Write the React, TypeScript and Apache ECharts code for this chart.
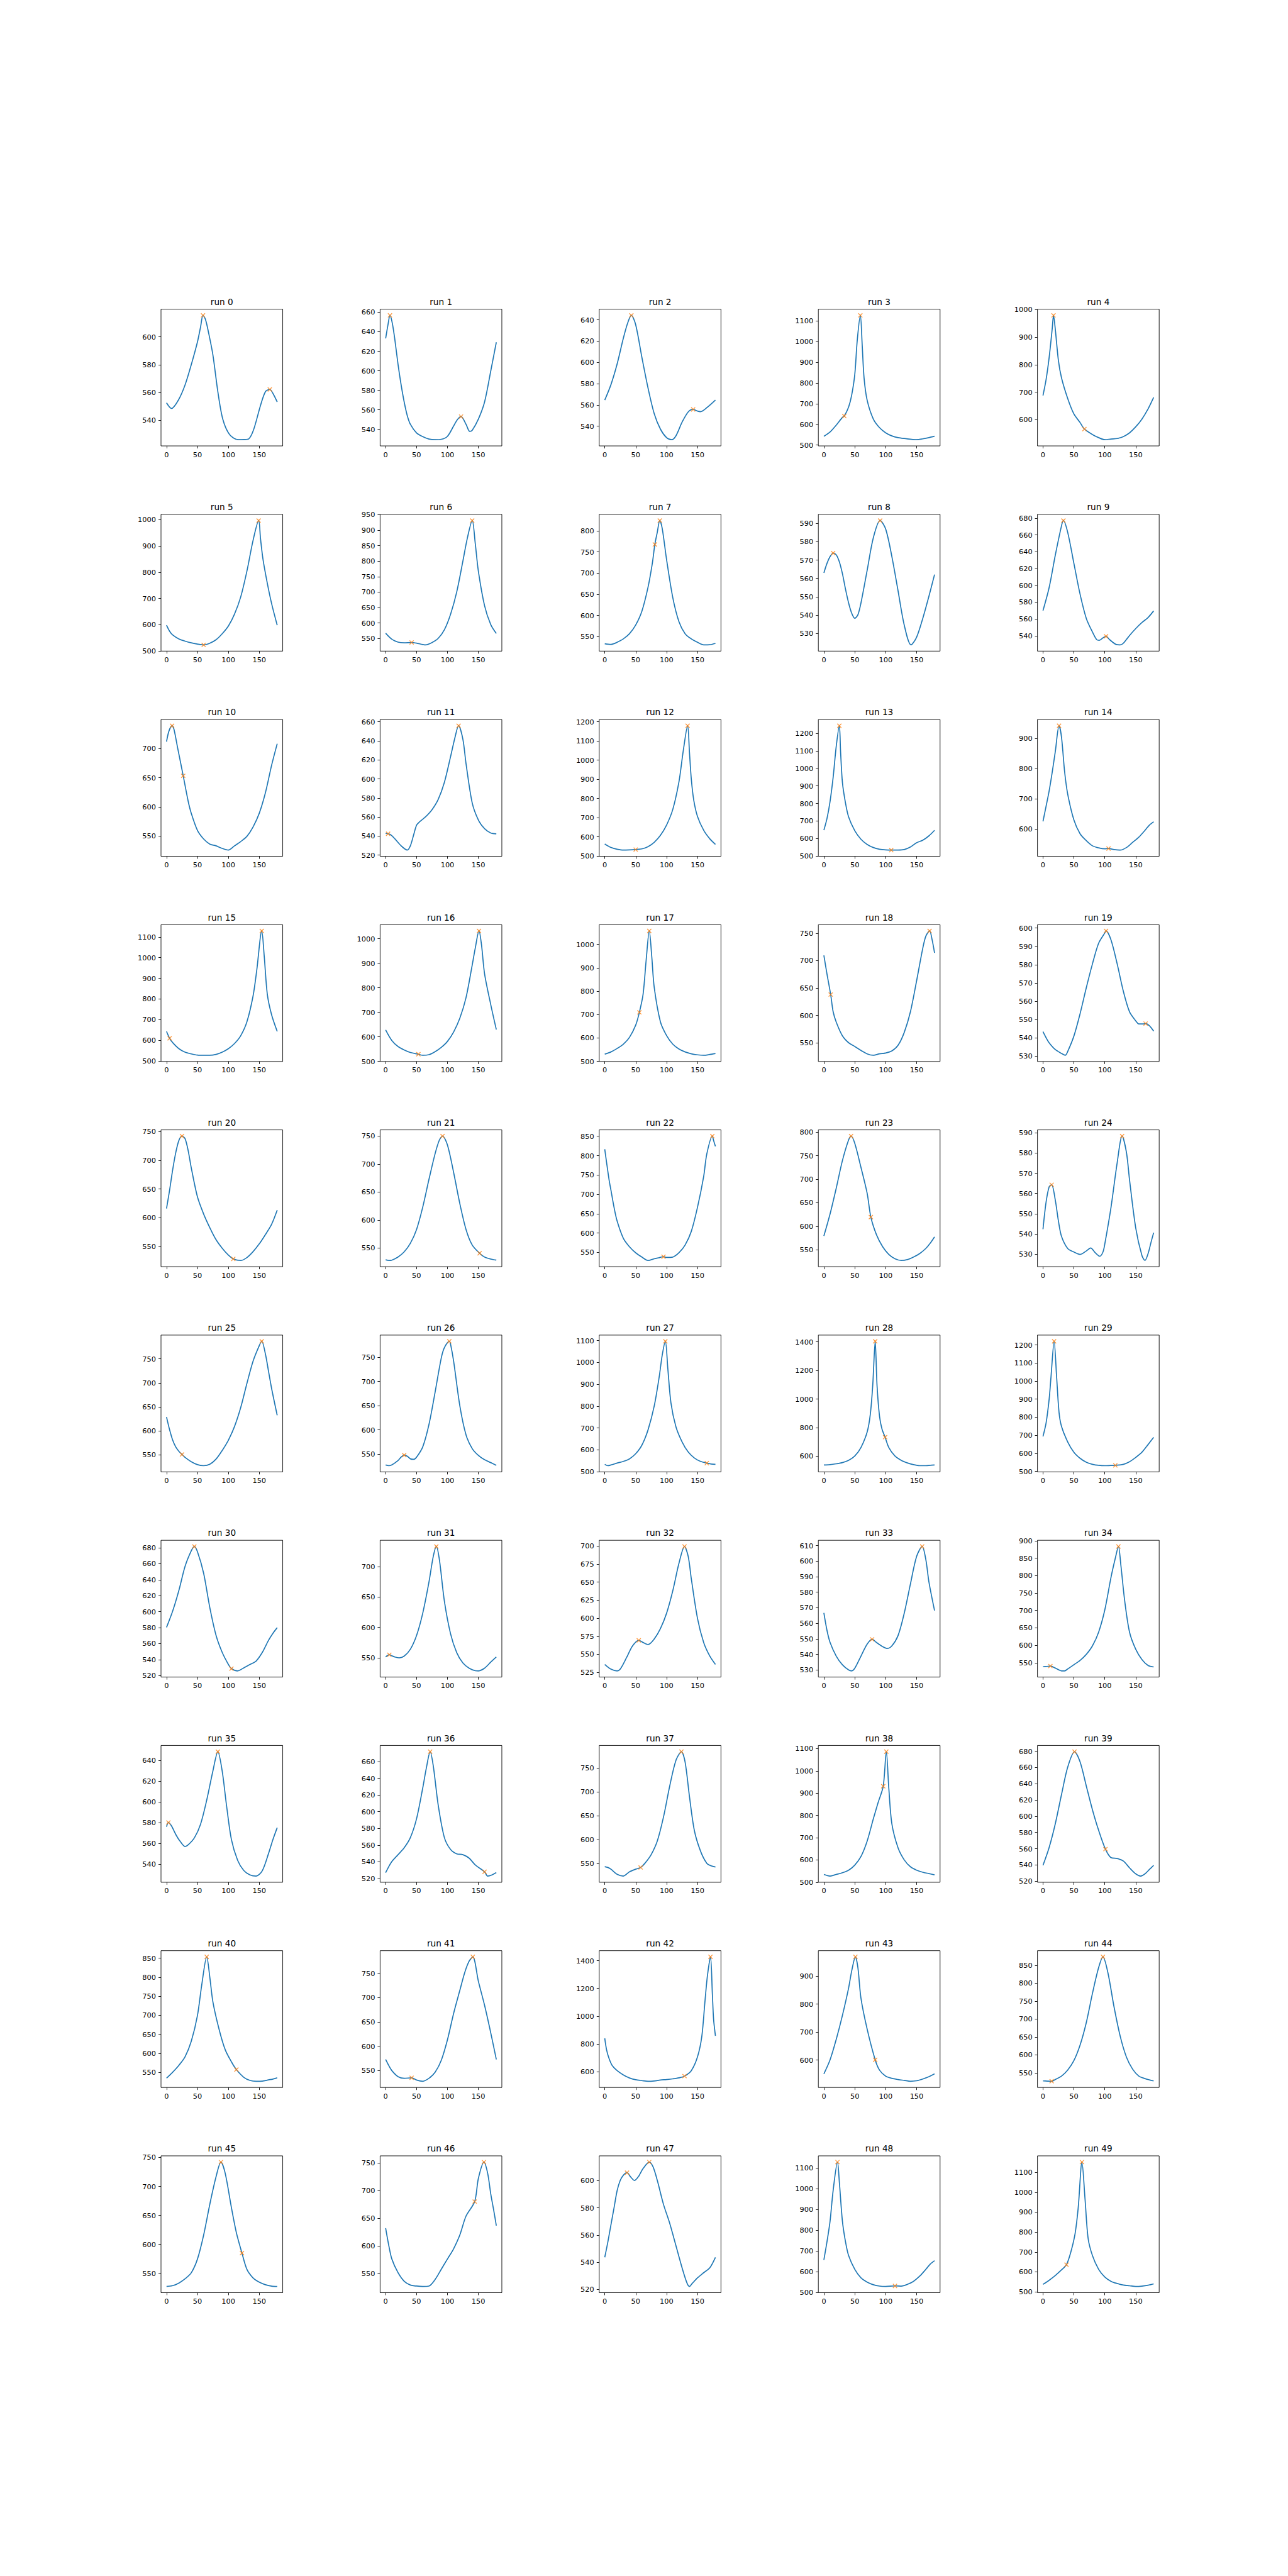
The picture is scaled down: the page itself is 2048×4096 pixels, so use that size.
import React, { useEffect, useRef } from "react";
import * as echarts from "echarts";

type P = [number, number];

// ---- curves (x = 0..179) ----
const r0: P[] = [[0,552.5],[8,548.4],[19,554.3],[30,565.4],[41,581.5],[50,596.3],[55,607],[59,615.5],[63,612.5],[68,603],[75,587],[83,560.5],[91,540.7],[102,529.6],[116,525.9],[125,526],[133,526.5],[141,533.3],[152,550.6],[160,560.5],[167,562.1],[173,558.5],[179,553.1]];
const r1: P[] = [[0,633.1],[4,648],[7,656.8],[11,648],[15,631.4],[20,606.7],[25,585.7],[30,568],[35,554],[40,545.2],[50,536.4],[60,532.6],[70,530.1],[80,529.4],[90,529.8],[100,532.9],[110,543.5],[116,550],[122,553.1],[130,545.2],[136,537.9],[140,539],[150,550.5],[160,568],[170,599.7],[179,629.2]];
const r2: P[] = [[0,564.6],[10,579.1],[20,598.5],[30,622.6],[37,637],[43,644.3],[50,635.5],[60,604.9],[70,575.9],[80,551.8],[90,537.3],[100,529.2],[108,527.3],[115,530.8],[125,543.7],[135,553.4],[143,555.8],[150,554.2],[155,553.7],[165,557.4],[179,564.6]];
const r3: P[] = [[0,542.3],[10,563],[20,596.3],[30,633.6],[33,640],[40,683.4],[45,741.5],[50,841],[54,1007],[59,1127],[62,982],[65,824.5],[70,716.6],[80,625.3],[90,583.8],[100,559],[110,544],[120,535.7],[130,531.6],[150,525.7],[160,529.9],[170,535.7],[179,542.3]];
const r4: P[] = [[0,688],[5,745.5],[10,826.6],[15,932.6],[17,979.4],[20,926.4],[25,814],[30,751.7],[40,676.9],[50,620.7],[60,589.5],[67,565.8],[80,545.9],[90,534.6],[100,527.1],[110,529.6],[120,531.5],[130,538.4],[140,552.1],[150,574],[160,602],[170,639.4],[179,681]];
const r5: P[] = [[0,598],[5,575],[10,560.8],[20,545.8],[30,537.3],[40,530.7],[50,526.1],[60,523],[70,529.4],[80,542.5],[90,565.4],[100,594.8],[110,640.5],[120,705.9],[130,804],[140,921.6],[149,997],[152,928],[156,849.7],[163,758],[170,680],[179,598]];
const r6: P[] = [[0,567.2],[10,547.8],[20,538.3],[30,536.1],[42,537.2],[50,535],[60,530.6],[65,529.4],[75,536.7],[85,550.6],[95,578.3],[105,628.3],[115,700.6],[125,800.6],[132,872.8],[140,931],[145,856],[150,767],[160,656],[170,595],[179,566.1]];
const r7: P[] = [[0,533.3],[10,531.7],[20,536.6],[30,544.7],[40,556.9],[50,577.2],[60,609.8],[70,666.7],[77,723.6],[81,767.5],[85,796.7],[89,824],[93,804.9],[100,731.7],[110,642.3],[120,585.4],[130,556.9],[140,544.7],[150,536.6],[160,530.5],[170,530.9],[179,534.1]];
const r8: P[] = [[0,563],[5,568.2],[10,571.9],[15,573.8],[20,572.9],[25,569.1],[30,562.6],[35,554.1],[40,546.6],[45,541],[50,538.2],[55,540.1],[60,546.6],[70,564.4],[80,582.2],[91,591.6],[100,586.9],[110,571.9],[120,553.2],[130,534.5],[141,523.7],[150,527.9],[160,538.2],[170,550.4],[179,562.1]];
const r9: P[] = [[0,570],[10,597.6],[20,636.3],[30,671],[33,677.1],[40,662.9],[50,626.1],[60,589.4],[70,560.8],[80,544.5],[87,535.3],[91,534.7],[97,537.5],[102,539.4],[108,535.3],[118,529.8],[125,529.2],[130,531.2],[140,540.4],[150,548.6],[160,555.7],[170,561.8],[179,569.6]];
const r10: P[] = [[0,711.8],[4,730.3],[9,739.1],[12,733.2],[18,700.9],[27,653.2],[35,609.7],[40,589],[50,559.7],[60,545],[70,536.2],[80,533.2],[90,528.8],[100,525.9],[110,533.2],[120,540.6],[130,549.4],[140,565.6],[150,589],[160,624.4],[170,671.5],[179,708.2]];
const r11: P[] = [[0,542.7],[4,542.3],[8,541.4],[15,537],[25,529.7],[35,525.2],[40,529.7],[45,540.5],[50,551.4],[55,555],[65,560.4],[75,567.6],[85,578.4],[95,596.4],[105,623.4],[112,643.2],[118,655.9],[125,641.4],[130,616.2],[140,574.8],[150,556.8],[160,547.7],[170,543.2],[179,542.3]];
const r12: P[] = [[0,562.2],[10,544.1],[20,535.1],[30,530.6],[40,531.5],[50,533.3],[60,536.9],[70,548.6],[80,571.2],[90,607.2],[100,661.3],[110,742.3],[120,886.5],[127,1049],[134,1179],[137,1040],[140,900],[144,790],[150,706],[160,634],[170,589],[179,560.4]];
const r13: P[] = [[0,647.4],[5,713.3],[10,811.6],[15,949.3],[20,1126.3],[25,1244],[27,1097],[30,919.8],[35,801.8],[40,723],[50,644.4],[60,595.3],[70,565.8],[80,548.1],[90,538.3],[100,534.3],[109,533.4],[120,533.4],[130,536.3],[140,551],[150,575.6],[160,590],[170,615],[179,646.4]];
const r14: P[] = [[0,625],[5,675.2],[10,726.6],[15,789.3],[20,857.8],[26,942.2],[30,903.4],[35,789.3],[40,715.2],[50,629.6],[60,584],[70,561.2],[80,544],[90,537.2],[100,534],[106,535],[115,531.5],[125,529.8],[135,538.3],[145,555.4],[155,572.6],[165,595.4],[172,612.5],[179,623.9]];
const r15: P[] = [[0,642.8],[5,609.2],[10,588.3],[20,559],[30,542.1],[40,533.7],[50,527.9],[60,527],[70,527],[80,531.2],[90,542.1],[100,559],[110,584],[120,621.8],[130,688.9],[140,814.8],[146,940.6],[154,1129.4],[158,1007.7],[163,823],[170,722.5],[179,642.8]];
const r16: P[] = [[0,628.5],[10,585.2],[20,560.8],[30,546.8],[40,536.3],[53,529.3],[60,525],[70,527.5],[80,539.8],[90,557.3],[100,581.7],[110,620.1],[120,676],[130,759.8],[140,892.5],[145,962.3],[151,1032],[155,976.3],[160,857.5],[170,731.8],[179,629.9]];
const r17: P[] = [[0,530.9],[10,540.4],[20,555.1],[30,573.5],[40,602.9],[50,654.4],[56,709.6],[62,786.8],[67,933.8],[72,1057.4],[76,948.5],[80,816.2],[90,669.1],[100,610.3],[110,573.5],[120,552.9],[130,540.4],[140,532.4],[150,527.9],[160,526],[170,529.4],[179,533.8]];
const r18: P[] = [[0,709.6],[5,675.7],[11,638.1],[15,606.7],[20,587.9],[30,562.9],[40,550.3],[50,543.4],[60,536.2],[70,530],[80,527.4],[90,530],[100,531.5],[110,535.3],[120,545.6],[130,569.1],[140,606.7],[150,663.2],[160,722.7],[165,744.7],[171,754.1],[175,738.4],[179,714]];
const r19: P[] = [[0,543.4],[5,540.1],[10,537.3],[20,533.6],[30,531.5],[36,530.5],[40,532.6],[50,541],[60,553.2],[70,567.3],[80,580.4],[90,591.7],[100,597.3],[102,598.4],[110,593.5],[120,580.4],[130,565.4],[140,554.2],[150,549.3],[155,547.6],[162,547.6],[166,547.8],[172,546.7],[179,543.7]];
const r20: P[] = [[0,616.1],[5,648.2],[10,683.9],[15,713.7],[20,734.5],[25,742],[30,737.5],[35,716.7],[40,686.9],[50,636.3],[60,606.5],[70,582.7],[80,561.9],[90,547],[100,535.1],[108,528.3],[120,525.6],[130,530.7],[140,541.1],[150,554.5],[160,570.8],[170,588.7],[179,613.1]];
const r21: P[] = [[0,528.7],[5,527.5],[10,528.1],[20,533.7],[30,542.9],[40,558.3],[50,583],[60,623],[70,672.3],[80,718.6],[87,743.2],[92,750],[100,734],[110,684.7],[120,629.2],[130,583],[140,555.2],[152,540.4],[160,533.7],[170,530],[179,528.1]];
const r22: P[] = [[0,816.3],[3,781.7],[7,737.4],[10,710.8],[15,666.5],[20,631],[30,586.7],[40,564.5],[50,549],[60,537.9],[70,529.1],[80,533.5],[87,536],[95,538.8],[100,537],[110,537.9],[120,549],[130,569],[140,604.4],[150,666.5],[160,746.3],[165,803.9],[174,850.4],[176,839.4],[179,823.8]];
const r23: P[] = [[0,579.3],[10,626.1],[20,681],[30,739.6],[40,783.5],[44,791.6],[50,776.2],[60,725],[70,670.1],[76,619.5],[85,582.2],[95,556.6],[105,540.1],[115,531],[125,527.3],[135,529.1],[145,534.6],[155,542],[165,553],[172,564],[179,577.5]];
const r24: P[] = [[0,542.3],[5,555.7],[10,563.3],[14,564.3],[20,556.5],[25,546.3],[30,538.7],[40,532.7],[50,531],[60,529.8],[70,531.5],[77,533],[85,530.5],[92,528.9],[97,531],[100,535],[110,553.1],[120,575.2],[128,588.4],[135,580.3],[140,566.7],[150,542.9],[160,529.3],[165,526.8],[170,530.2],[175,536.1],[179,540.6]];
const r25: P[] = [[0,628.7],[5,601.8],[10,580.2],[15,565.9],[20,557],[25,550.5],[30,544.3],[40,535.4],[50,529.3],[60,527.1],[70,530],[80,540.7],[90,558.7],[100,580.2],[110,608.9],[120,648.4],[130,698.7],[140,745.3],[150,777.6],[154,786.6],[160,759.7],[165,723.8],[170,687.9],[179,632.3]];
const r26: P[] = [[0,527.8],[5,526.4],[10,528.1],[20,537],[25,544],[30,548.2],[35,545.8],[40,540.5],[45,539.4],[50,544],[60,565.2],[70,611],[80,678],[90,748.6],[95,769.8],[103,782.8],[105,776.8],[110,741.5],[120,649.8],[130,589.9],[140,561.6],[150,547.5],[160,538.7],[170,532.7],[179,527.1]];
const r27: P[] = [[0,533.7],[5,527.5],[10,530.6],[20,539.2],[30,547],[40,558.7],[50,582.1],[60,621.1],[70,691.3],[80,800.5],[88,933],[93,1034.5],[98,1096.9],[102,972],[107,816],[115,706.9],[125,636.7],[135,589.9],[145,562.6],[155,547],[165,539.2],[172,535.3],[179,533.7]];
const r28: P[] = [[0,538.7],[10,541.1],[20,547.2],[30,555.6],[40,571.1],[50,601.2],[60,661.3],[70,769.4],[75,889.5],[79,1093.7],[83,1403.6],[86,1093.7],[90,880],[94,790],[99,733.3],[105,661.3],[115,601.2],[125,571.1],[135,553.2],[145,541.1],[155,533.9],[165,533.9],[172,536.3],[179,538.7]];
const r29: P[] = [[0,693.8],[5,768],[10,901.2],[13,1025],[18,1220],[22,1025],[26,825.1],[30,749],[40,663.4],[50,606.3],[60,573],[70,551.1],[80,539.7],[90,534],[100,532.1],[110,533.5],[117,534],[130,539.7],[140,553.9],[150,577.7],[160,606.3],[170,649.1],[179,689]];
const r30: P[] = [[0,580.3],[10,600.8],[20,626.6],[30,656.7],[40,676.1],[45,681.5],[50,675],[60,648.1],[70,605.1],[80,570.6],[90,549.1],[100,534],[105,528.7],[115,525.9],[125,529.7],[135,534],[145,538.3],[155,549.1],[165,564.2],[172,572.8],[179,579.9]];
const r31: P[] = [[0,551.1],[6,554.8],[10,553.1],[15,551.1],[22,549.7],[30,552.6],[40,563.9],[50,586.6],[60,623.4],[70,674.5],[77,717],[82,733.5],[87,711.3],[95,643.3],[105,589.4],[115,558.2],[125,541.2],[135,532.7],[145,528.5],[150,528.2],[160,532.7],[170,542.6],[179,551.1]];
const r32: P[] = [[0,536],[10,529.5],[20,527.1],[25,529.5],[35,545],[45,561.7],[55,569.3],[62,566.4],[70,563.6],[80,571.2],[90,585.5],[100,606.9],[110,637.9],[120,676],[129,699.3],[135,685.5],[140,654.5],[150,599.8],[160,566.4],[170,547.4],[179,536]];
const r33: P[] = [[0,566.7],[5,555.5],[10,547.7],[20,538.9],[30,533.3],[40,530],[45,529.4],[50,531.1],[60,538.9],[70,546.6],[78,549.7],[85,547.7],[95,545],[102,543.8],[110,545.5],[120,552.1],[130,566.5],[140,585.3],[150,603],[159,609.4],[165,600.8],[170,586.4],[179,568.2]];
const r34: P[] = [[0,538.6],[6,539.5],[12,540.6],[20,534.7],[30,526.8],[35,526.8],[40,532.2],[50,544.5],[60,556.8],[70,574],[80,598.5],[90,637.8],[100,701.7],[110,795],[117,850],[122,883.4],[126,829.4],[132,730],[140,637.8],[150,588.7],[160,559.2],[170,542.1],[179,538.1]];
const r35: P[] = [[0,576.2],[3,580.3],[8,577],[15,568.7],[22,562.1],[30,557.1],[35,558.7],[45,565.4],[55,578.6],[65,601.9],[75,630],[83,648.6],[90,630],[97,596.9],[105,563.7],[115,543.8],[125,533.9],[135,529.7],[145,528.6],[155,533.9],[165,550.4],[172,563.7],[179,575.3]];
const r36: P[] = [[0,527],[5,534.2],[10,540.3],[20,548.5],[30,556.8],[40,569],[50,591.6],[60,628.4],[66,653],[72,671.9],[77,655.1],[85,608],[95,569],[105,554.7],[115,549.5],[125,548.5],[135,544.4],[145,536.2],[160,528],[165,522.9],[172,524.3],[179,527]];
const r37: P[] = [[0,543.5],[5,541.8],[10,538.2],[20,527.4],[30,523.8],[40,532.8],[50,538.2],[58,541.8],[65,550.7],[75,568.6],[85,597.3],[95,647.5],[105,712],[115,765.8],[124,784.4],[130,762.2],[137,690.5],[145,618.8],[155,575.8],[165,550.7],[172,545.3],[179,542.8]];
const r38: P[] = [[0,534.6],[10,527.5],[20,534.6],[30,542.3],[40,553.8],[50,576.9],[60,615.4],[70,684.6],[80,784.6],[88,860],[96,930.8],[101,1086],[105,923],[110,761.5],[120,653.8],[130,600],[140,569.2],[150,553.8],[160,544.6],[170,538.5],[179,533.1]];
const r39: P[] = [[0,539.5],[10,561.6],[20,591],[30,626.8],[40,660.4],[51,679.4],[60,666.8],[70,637.3],[80,607.9],[90,582.6],[101,559.5],[110,549],[120,547.9],[130,544.8],[140,536.4],[150,529],[158,526.3],[165,529],[172,534.3],[179,539.5]];
const r40: P[] = [[0,534.7],[10,550.5],[20,568.5],[30,591],[40,631.5],[50,699.1],[57,780.2],[65,853.2],[70,800],[75,735.1],[85,663.1],[95,609],[105,577.5],[113,557.2],[125,536.9],[135,528.8],[145,526.6],[155,527],[165,530.2],[172,532.4],[179,535.6]];
const r41: P[] = [[0,573],[5,560.6],[10,550],[20,537.6],[30,534.1],[42,535.2],[50,530.6],[60,528.1],[70,534.1],[80,546.5],[90,571.2],[100,613.6],[110,668],[120,715],[128,752],[135,775],[141,783.9],[150,733.7],[160,684.3],[170,627.7],[179,573]];
const r42: P[] = [[0,840.3],[3,756],[7,694.1],[12,644.6],[20,607.4],[30,576.5],[40,554.2],[50,541.8],[60,535.6],[70,530.7],[80,533.1],[90,539.3],[100,543],[110,548],[120,555.4],[129,567.8],[140,607.4],[150,706.5],[157,855],[162,1102.8],[166,1288.5],[171,1427.2],[174,1164.7],[176,979],[179,857.6]];
const r43: P[] = [[0,550.6],[10,600.7],[20,674],[30,759.5],[40,857.2],[45,918.3],[51,968.4],[55,930.5],[60,820.6],[70,710.6],[83,600.7],[90,564],[100,542.6],[110,534.7],[120,530.4],[130,527.4],[140,524.3],[150,526.1],[160,532.3],[170,540.8],[179,550.6]];
const r44: P[] = [[0,527.4],[7,526.8],[14,526.4],[20,531.3],[30,540.9],[40,557.7],[50,584.1],[60,627.4],[70,689.9],[80,771.6],[90,843.8],[97,873.6],[105,829.3],[115,733.2],[125,651.4],[135,593.8],[145,560.1],[155,540.9],[165,533.7],[172,530.3],[179,527.4]];
const r45: P[] = [[0,527.3],[10,528.7],[20,533.2],[30,540.5],[40,550.9],[50,574.5],[60,615.9],[70,669.1],[80,716.3],[88,742],[95,722.2],[105,663.1],[113,620],[122,584.9],[130,556.8],[140,542],[150,534.6],[160,530.2],[170,527.8],[179,527.3]];
const r46: P[] = [[0,632.2],[5,601.2],[10,576.4],[20,551.6],[30,536],[40,529.2],[50,527.4],[60,526.7],[70,527.4],[80,539.2],[90,557.8],[100,576.4],[110,595],[120,619.8],[130,653.9],[144,680.2],[150,722.1],[159,751.6],[165,731.4],[170,694.2],[175,663.2],[179,636.8]];
const r47: P[] = [[0,543.6],[5,554.9],[10,567.5],[15,580],[20,592.6],[25,600.1],[30,603.9],[36,605.8],[42,602.6],[48,600.1],[55,603.3],[62,608.9],[72,613.6],[78,610.2],[85,600.1],[95,582.5],[105,568.7],[115,552.4],[125,536],[133,524.7],[137,522.2],[142,524.7],[150,528.5],[160,532.3],[170,536],[179,543.6]];
const r48: P[] = [[0,657],[5,744],[10,843.4],[15,992.4],[22,1129],[25,1033.8],[30,843.4],[35,744],[40,677.8],[50,611.6],[60,570.2],[70,549.5],[80,537],[90,530.5],[100,528.8],[115,531.3],[125,530.5],[135,538.7],[145,553.6],[155,578.5],[165,611.6],[172,636.4],[179,653]];
const r49: P[] = [[0,537],[10,558],[20,582],[30,610],[38,636.2],[45,699.1],[52,794],[57,923.3],[63,1151.7],[68,966.4],[73,768],[80,681.9],[90,612.9],[100,574.1],[110,552.6],[120,541.4],[130,533.6],[140,530.2],[150,526.7],[160,528.4],[170,532.8],[179,539.7]];

// ---- marked points (orange x) ----
const k0: P[] = [[59,615.5],[167,562.1]];
const k1: P[] = [[7,656.8],[122,553.1]];
const k2: P[] = [[43,644.3],[143,555.8]];
const k3: P[] = [[59,1127],[33,640]];
const k4: P[] = [[17,979.4],[67,565.8]];
const k5: P[] = [[149,997],[60,523]];
const k6: P[] = [[140,931],[42,537.2]];
const k7: P[] = [[89,824],[81,767.5]];
const k8: P[] = [[91,591.6],[15,573.8]];
const k9: P[] = [[33,677.1],[102,539.4]];
const k10: P[] = [[9,739.1],[27,653.2]];
const k11: P[] = [[118,655.9],[4,542.3]];
const k12: P[] = [[134,1179],[50,533.3]];
const k13: P[] = [[25,1244],[109,533.4]];
const k14: P[] = [[26,942.2],[106,535]];
const k15: P[] = [[154,1129.4],[5,609.2]];
const k16: P[] = [[151,1032],[53,529.3]];
const k17: P[] = [[72,1057.4],[56,709.6]];
const k18: P[] = [[171,754.1],[11,638.1]];
const k19: P[] = [[102,598.4],[166,547.8]];
const k20: P[] = [[25,742],[108,528.3]];
const k21: P[] = [[92,750],[152,540.4]];
const k22: P[] = [[174,850.4],[95,538.8]];
const k23: P[] = [[44,791.6],[76,619.5]];
const k24: P[] = [[128,588.4],[14,564.3]];
const k25: P[] = [[154,786.6],[25,550.5]];
const k26: P[] = [[103,782.8],[30,548.2]];
const k27: P[] = [[98,1096.9],[165,539.2]];
const k28: P[] = [[83,1403.6],[99,733.3]];
const k29: P[] = [[18,1220],[117,534]];
const k30: P[] = [[45,681.5],[105,528.7]];
const k31: P[] = [[82,733.5],[6,554.8]];
const k32: P[] = [[129,699.3],[55,569.3]];
const k33: P[] = [[159,609.4],[78,549.7]];
const k34: P[] = [[122,883.4],[12,540.6]];
const k35: P[] = [[83,648.6],[3,580.3]];
const k36: P[] = [[72,671.9],[160,528]];
const k37: P[] = [[124,784.4],[58,541.8]];
const k38: P[] = [[101,1086],[96,930.8]];
const k39: P[] = [[51,679.4],[101,559.5]];
const k40: P[] = [[65,853.2],[113,557.2]];
const k41: P[] = [[141,783.9],[42,535.2]];
const k42: P[] = [[171,1427.2],[129,567.8]];
const k43: P[] = [[51,968.4],[83,600.7]];
const k44: P[] = [[97,873.6],[14,526.4]];
const k45: P[] = [[88,742],[122,584.9]];
const k46: P[] = [[159,751.6],[144,680.2]];
const k47: P[] = [[72,613.6],[36,605.8]];
const k48: P[] = [[22,1129],[115,531.3]];
const k49: P[] = [[63,1151.7],[38,636.2]];

const runs: P[][] = [r0,r1,r2,r3,r4,r5,r6,r7,r8,r9,r10,r11,r12,r13,r14,r15,r16,r17,r18,r19,r20,r21,r22,r23,r24,r25,r26,r27,r28,r29,r30,r31,r32,r33,r34,r35,r36,r37,r38,r39,r40,r41,r42,r43,r44,r45,r46,r47,r48,r49];
const marks: P[][] = [k0,k1,k2,k3,k4,k5,k6,k7,k8,k9,k10,k11,k12,k13,k14,k15,k16,k17,k18,k19,k20,k21,k22,k23,k24,k25,k26,k27,k28,k29,k30,k31,k32,k33,k34,k35,k36,k37,k38,k39,k40,k41,k42,k43,k44,k45,k46,k47,k48,k49];

// y tick spacing for each panel
const yTickStep: number[] = [20,20,20,100,100, 100,50,50,10,20, 50,20,100,100,100, 100,100,100,50,10, 50,50,50,50,10, 50,50,100,200,100, 20,50,25,10,50, 20,20,50,100,20, 50,50,200,100,50, 50,50,20,100,100];
const xTicks: number[] = [0, 50, 100, 150];
const xDataMin = 0;
const xDataMax = 179;

// ---- layout (px, already at 0.819 scale) ----
const S = 2048 / 2500;
const COLS = 5;
const LEFT0 = 312.5 * S;
const COL_PITCH = 425.3 * S;
const AX_W = 236.28 * S;
const TOP0 = 600 * S;
const ROW_PITCH = 398.28 * S;
const AX_H = 265.52 * S;
const FONT = "DejaVu Sans";
const TICK_FS = 13.89 * S;
const TITLE_FS = 16.67 * S;
const BLUE = "#1f77b4";
const ORANGE = "#ff7f0e";
const XMARK = "path://M0,1.3L1.3,0L5,3.7L8.7,0L10,1.3L6.3,5L10,8.7L8.7,10L5,6.3L1.3,10L0,8.7L3.7,5Z";

function limits(d: P[]): [number, number] {
  let lo = Infinity, hi = -Infinity;
  for (const p of d) { if (p[1] < lo) lo = p[1]; if (p[1] > hi) hi = p[1]; }
  const m = 0.05 * (hi - lo);
  return [lo - m, hi + m];
}

function ticksFor(lo: number, hi: number, step: number): number[] {
  const out: number[] = [];
  for (let v = Math.ceil(lo / step) * step; v <= hi + 1e-9; v += step) out.push(Math.round(v * 1000) / 1000);
  return out;
}

function buildOption() {
  const xm = 0.05 * (xDataMax - xDataMin);
  const grids: any[] = [], xAxes: any[] = [], yAxes: any[] = [], series: any[] = [], graphics: any[] = [];
  runs.forEach((d, i) => {
    const row = Math.floor(i / COLS), col = i % COLS;
    const left = LEFT0 + col * COL_PITCH;
    const top = TOP0 + row * ROW_PITCH;
    grids.push({ left, top, width: AX_W, height: AX_H, show: true, borderColor: "#000", borderWidth: 0.9, backgroundColor: "transparent", containLabel: false, outerBoundsMode: "none" });
    const tickStyle = { show: true, length: 4, inside: false, lineStyle: { color: "#000", width: 0.9 } };
    const labelStyle = { show: true, color: "#000", fontSize: TICK_FS, fontFamily: FONT, margin: 8, formatter: (v: number) => String(v) };
    xAxes.push({
      type: "value", gridIndex: i, min: xDataMin - xm, max: xDataMax + xm,
      axisLine: { show: false, onZero: false },
      axisTick: { ...tickStyle, customValues: xTicks },
      axisLabel: { ...labelStyle, customValues: xTicks, hideOverlap: false },
      splitLine: { show: false },
    });
    const [lo, hi] = limits(d);
    const yt = ticksFor(lo, hi, yTickStep[i]);
    yAxes.push({
      type: "value", gridIndex: i, min: lo, max: hi, scale: true,
      axisLine: { show: false, onZero: false },
      axisTick: { ...tickStyle, customValues: yt },
      axisLabel: { ...labelStyle, customValues: yt, hideOverlap: false },
      splitLine: { show: false },
    });
    series.push({
      type: "line", xAxisIndex: i, yAxisIndex: i, data: d, showSymbol: false, symbol: "none",
      smooth: 0.3, lineStyle: { color: BLUE, width: 1.71 }, z: 2, silent: true,
    });
    series.push({
      type: "scatter", xAxisIndex: i, yAxisIndex: i, data: marks[i], symbol: XMARK, symbolSize: 7.4,
      itemStyle: { color: ORANGE }, z: 3, silent: true,
    });
    graphics.push({
      type: "text", x: left + AX_W / 2, y: top - 11.7, silent: true,
      style: { text: "run " + i, fontSize: TITLE_FS, fontFamily: FONT, fill: "#000", align: "center", verticalAlign: "middle" },
    });
  });
  return {
    animation: false,
    backgroundColor: "#fff",
    grid: grids, xAxis: xAxes, yAxis: yAxes, series, graphic: graphics,
  };
}

export default function App() {
  const ref = useRef<HTMLDivElement>(null);
  useEffect(() => {
    const chart = echarts.init(ref.current as HTMLDivElement, null, { renderer: "svg" });
    chart.setOption(buildOption() as any);
    return () => chart.dispose();
  }, []);
  return <div ref={ref} style={{ position: "absolute", left: 0, top: 0, width: 2048, height: 4096, background: "#fff" }} />;
}
